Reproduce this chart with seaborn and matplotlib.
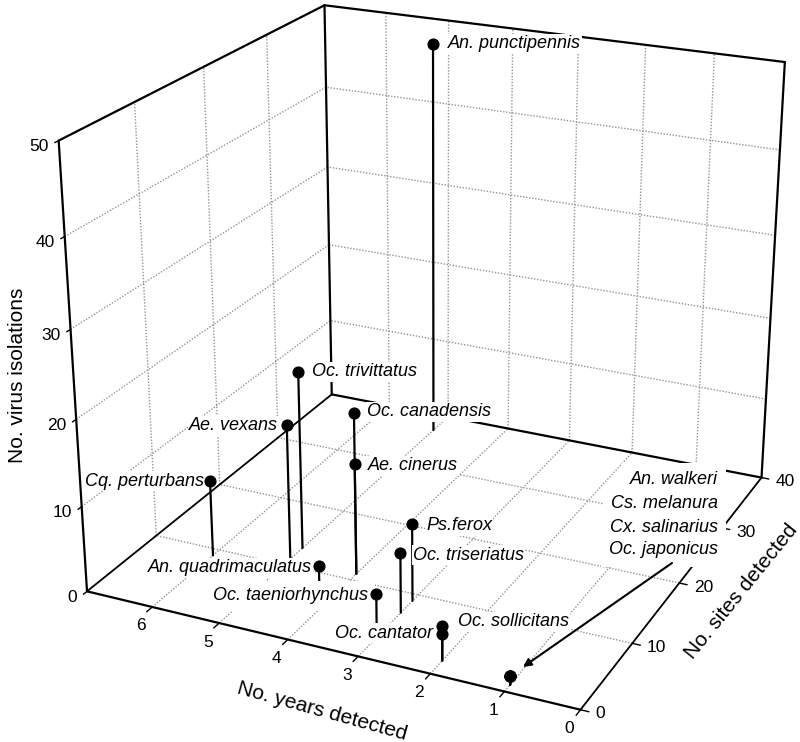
import matplotlib
matplotlib.use("Agg")
import matplotlib.pyplot as plt
import numpy as np
import pandas as pd
import seaborn as sns
from mpl_toolkits.mplot3d import proj3d

# Species values
species = ["An. punctipennis", "Oc. trivittatus", "Oc. canadensis", "Ae. cinerus",
           "Ae. vexans", "Cq. perturbans", "An. quadrimaculatus", "Oc. taeniorhynchus",
           "Ps.ferox", "Oc. triseriatus", "Oc. sollicitans", "Oc. cantator",
           "An. walkeri", "Cs. melanura", "Cx. salinarius", "Oc. japonicus"]
years = [5, 5, 4, 4, 5, 6, 4, 3, 3, 3, 2, 2, 1, 1, 1, 1]
sites = [37, 13, 11, 11, 11, 9, 5, 3, 9, 7, 2, 2, 1, 1, 1, 1]
isolations = [48.3, 21, 19, 13, 16, 9, 5, 5, 9, 7, 4, 3, 1, 1, 1, 1]

year_ticks = [0, 1, 2, 3, 4, 5, 6]
site_ticks = [0, 10, 20, 30, 40]
virus_ticks = [0, 10, 20, 30, 40, 50]

data = pd.DataFrame({"species": species, "years": years, "sites": sites, "isolations": isolations})

sns.set_theme(style="white")
plt.rcParams["font.family"] = ["Liberation Sans", "DejaVu Sans"]

fig = plt.figure(figsize=(8, 7.42), dpi=100)
ax = fig.add_axes([0, 0, 1, 1], projection="3d", computed_zorder=False)
ax.set_xlim(7, 0)
ax.set_ylim(0, 40)
ax.set_zlim(0, 50)
ax.view_init(elev=22.389, azim=-65.037)
ax.set_proj_type("persp", focal_length=0.6043)
ax.set_box_aspect((1, 1.00285, 0.89022), zoom=1.14827)
ax.set_position([0.03763, 0.0505, 1, 1])
ax.apply_aspect()
ax.set_axis_off()


def line3d(x, y, z, **kw):
    ax.plot(x, y, z, clip_on=False, **kw)


def to_pixels(x, y, z):
    xs, ys, _ = proj3d.proj_transform(x, y, z, ax.get_proj())
    px, py = ax.transData.transform((xs, ys))
    return px, 742 - py


def label(px, py, text, **kw):
    kw.setdefault("ha", "center")
    kw.setdefault("va", "center")
    return ax.text2D(px / 800, 1 - py / 742, text, transform=fig.transFigure, **kw)


def species_label(px, py, text, ha="left", pad=1.0):
    label(px, py + 2, text, ha=ha, style="italic", fontsize=13, color="black", zorder=5,
          bbox=dict(fc="white", ec="none", pad=pad))


# dotted grid on floor and walls
grid = dict(color="#949494", lw=1.0, ls=(0, (1, 1.2)), zorder=1)
for y in site_ticks[1:-1]:
    line3d([0, 7], [y, y], [0, 0], **grid)
    line3d([7, 7], [y, y], [0, 50], **grid)
for x in year_ticks[1:]:
    line3d([x, x], [0, 40], [0, 0], **grid)
    line3d([x, x], [40, 40], [0, 50], **grid)
for z in virus_ticks[1:-1]:
    line3d([7, 7], [0, 40], [z, z], **grid)
    line3d([0, 7], [40, 40], [z, z], **grid)

# box edges
edge = dict(color="black", lw=1.6, zorder=2)
line3d([7, 0], [0, 0], [0, 0], **edge)
line3d([0, 0], [0, 40], [0, 0], color="black", lw=1.3, zorder=2)
line3d([0, 7], [40, 40], [0, 0], **edge)
line3d([7, 7], [40, 0], [0, 0], color="black", lw=1.3, zorder=2)
line3d([7, 7], [0, 0], [0, 50], **edge)
line3d([7, 7], [40, 40], [0, 50], **edge)
line3d([0, 0], [40, 40], [0, 50], **edge)
line3d([7, 7], [0, 40], [50, 50], **edge)
line3d([7, 0], [40, 40], [50, 50], **edge)

# ticks and their labels
tick = dict(color="black", lw=1.0, zorder=2)
for x in year_ticks:
    line3d([x, x], [0, -0.8], [0, 0], **tick)
    px, py = to_pixels(x, 0, 0)
    label(px - 11, py + 19, str(x), fontsize=12.5, color="black", zorder=4)
for y in site_ticks:
    line3d([0, -0.11], [y, y], [0, 0], **tick)
    px, py = to_pixels(0, y, 0)
    label(px + (20 if y == 0 else 24), py + 4, str(y), fontsize=12.5, color="black", zorder=4)
for z in virus_ticks:
    line3d([7, 7], [0, -0.5], [z, z], **tick)
    px, py = to_pixels(7, 0, z)
    label(px - 10, py + 6, str(z), ha="right", fontsize=12.5, color="black", zorder=4)

# stems and points
for row in data.itertuples():
    line3d([row.years, row.years], [row.sites, row.sites], [0, row.isolations],
           color="black", lw=1.6, zorder=3)
ax.scatter(data["years"], data["sites"], data["isolations"], s=60, c="black",
           depthshade=False, clip_on=False, zorder=6)

species_label(448, 42, "An. punctipennis")
species_label(312, 370, "Oc. trivittatus")
species_label(367, 410, "Oc. canadensis")
species_label(368, 464, "Ae. cinerus")
species_label(278, 424, "Ae. vexans", ha="right")
species_label(204, 479, "Cq. perturbans", ha="right")
species_label(312, 566, "An. quadrimaculatus", ha="right")
species_label(368, 594, "Oc. taeniorhynchus", ha="right", pad=5)
species_label(433, 631, "Oc. cantator", ha="right")
species_label(426, 524, "Ps.ferox")
species_label(413, 553, "Oc. triseriatus")
species_label(458, 620, "Oc. sollicitans")
species_label(718, 478, "An. walkeri", ha="right", pad=6)
species_label(718, 502, "Cs. melanura", ha="right", pad=6)
species_label(718, 525, "Cx. salinarius", ha="right", pad=6)
species_label(718, 548, "Oc. japonicus", ha="right", pad=6)

# arrow from the four stacked names down to their shared point
ax.annotate("", xy=(523 / 800, 1 - 667 / 742), xytext=(672 / 800, 1 - 563 / 742),
            xycoords="figure fraction", textcoords="figure fraction",
            arrowprops=dict(arrowstyle="-|>", color="black", lw=1.5, mutation_scale=12,
                            shrinkA=0, shrinkB=0), zorder=7)

label(18, 375, "No. virus isolations", rotation=90, fontsize=15, color="black")
label(322, 711, "No. years detected", rotation=-15.5, rotation_mode="anchor", fontsize=15, color="black")
label(741, 592, "No. sites detected", rotation=51, rotation_mode="anchor", fontsize=15, color="black")

fig.savefig("out.png", dpi=100)
